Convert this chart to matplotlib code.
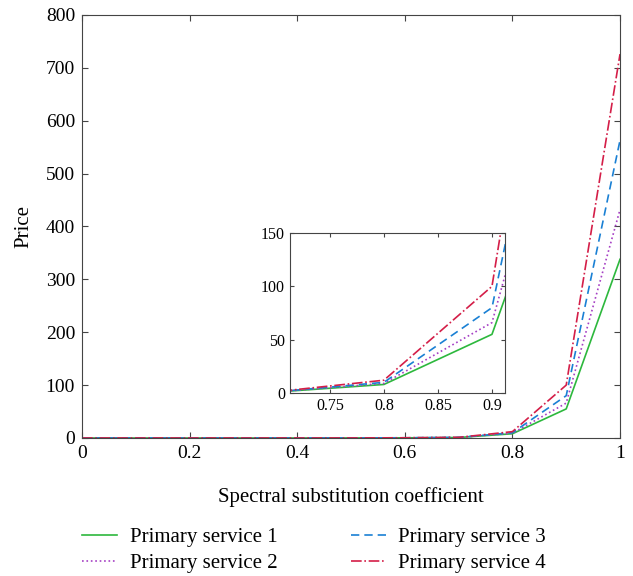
import matplotlib.pyplot as plt

plt.rcParams['font.family'] = ['Liberation Serif', 'DejaVu Serif']

coef = [0.0, 0.1, 0.2, 0.3, 0.4, 0.5, 0.6, 0.7, 0.8, 0.9, 1.0]
service1 = [0, 0, 0, 0, 0, 0.1, 0.3, 0.9, 8, 55, 338]
service2 = [0, 0, 0, 0, 0, 0.1, 0.3, 1.0, 9, 66, 432]
service3 = [0, 0, 0, 0, 0, 0.1, 0.4, 1.1, 10, 80, 563]
service4 = [0, 0, 0, 0, 0, 0.1, 0.4, 1.2, 12, 100, 726]
labels = ["Primary service 1", "Primary service 2", "Primary service 3", "Primary service 4"]

styles = [("#2db83d", "-"), ("#a53fc4", ":"), ("#1a80d4", (0, (5, 3))), ("#d41e48", "-.")]
series = [service1, service2, service3, service4]

fig = plt.figure(figsize=(6.33, 5.76), dpi=100)
ax = fig.add_axes([0.1295, 0.2396, 0.85, 0.7344])

lines = []
for vals, (col, ls), lab in zip(series, styles, labels):
    ln, = ax.plot(coef, vals, color=col, linestyle=ls, linewidth=1.2, label=lab)
    lines.append(ln)

ax.set_xlim(0, 1)
ax.set_ylim(0, 800)
ax.set_xticks([0, 0.2, 0.4, 0.6, 0.8, 1])
ax.set_xticklabels(["0", "0.2", "0.4", "0.6", "0.8", "1"])
ax.tick_params(direction="in", top=True, right=True, labelsize=14, length=4, pad=5,
               color="#444444")
for sp in ax.spines.values():
    sp.set_color("#444444")
ax.set_xlabel("Spectral substitution coefficient", fontsize=15, labelpad=18)
ax.set_ylabel("Price", fontsize=15, labelpad=9)

# zoomed inset
ins = fig.add_axes([0.458, 0.3177, 0.3397, 0.2778])
for vals, (col, ls) in zip(series, styles):
    ins.plot(coef, vals, color=col, linestyle=ls, linewidth=1.2)
ins.set_xlim(0.713, 0.912)
ins.set_ylim(0, 150)
ins.set_xticks([0.75, 0.8, 0.85, 0.9])
ins.set_xticklabels(["0.75", "0.8", "0.85", "0.9"])
ins.set_yticks([0, 50, 100, 150])
ins.tick_params(direction="in", top=True, right=True, labelsize=11.5, length=3,
                color="#444444")
for sp in ins.spines.values():
    sp.set_color("#444444")

fig.legend(handles=lines, ncol=2, frameon=False,
           loc="lower left", bbox_to_anchor=(0.1, -0.027), fontsize=15,
           handlelength=1.7, handletextpad=0.6, columnspacing=3.5, labelspacing=0.3)

fig.savefig("out.png", dpi=100)
